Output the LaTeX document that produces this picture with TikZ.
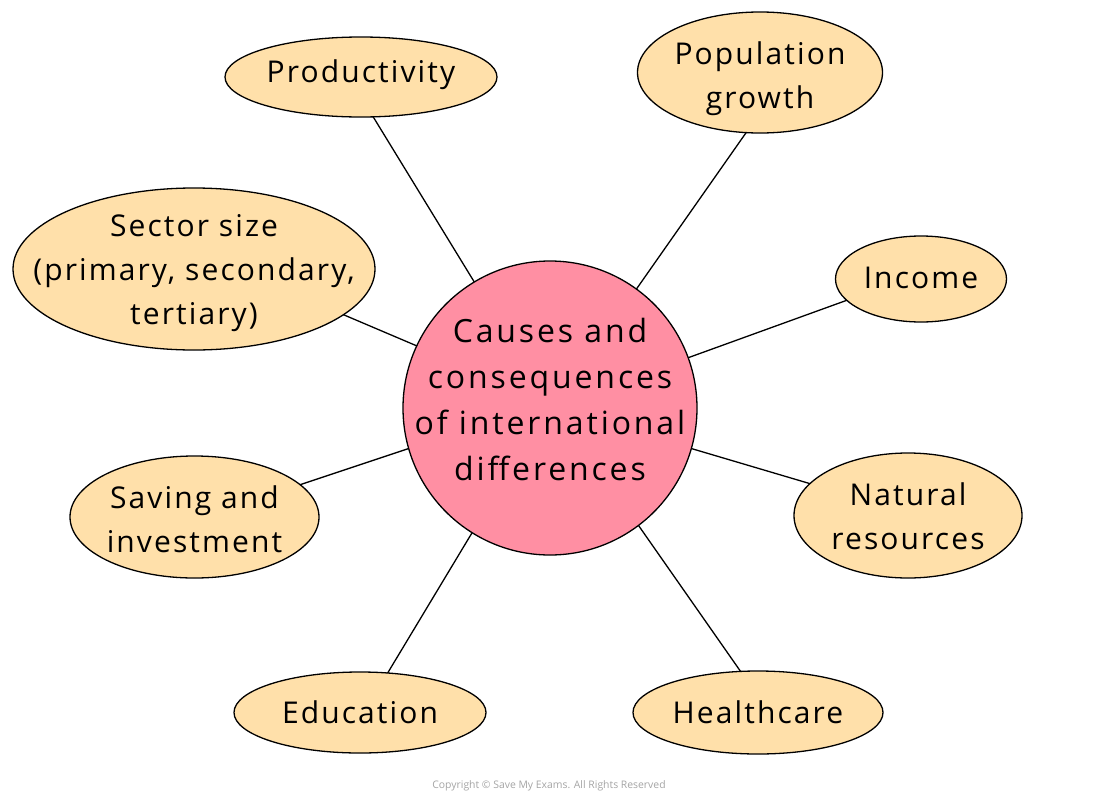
\documentclass[tikz,border=0pt]{standalone}
\usepackage{fontspec}
\setmainfont{Open Sans}
\newfontfamily\efont{Open Sans}[LetterSpace=7]
\newfontfamily\cfont{Open Sans}[LetterSpace=9]
\usetikzlibrary{shapes.geometric}
\definecolor{peach}{RGB}{255,224,170}
\definecolor{rosy}{RGB}{255,143,163}
\definecolor{copygray}{RGB}{165,165,165}
\tikzset{
  bubble/.style={ellipse, draw=black, line width=1.3pt, fill=peach, inner sep=0pt, outer sep=0pt},
  hub/.style={circle, draw=black, line width=1.3pt, fill=rosy, inner sep=0pt, outer sep=0pt, minimum size=294pt},
  btext/.style={align=center, font={\efont\fontsize{30}{44}\selectfont}, inner sep=0pt},
  ctext/.style={align=center, font={\cfont\fontsize{32}{46}\selectfont}, inner sep=0pt},
  link/.style={draw=black, line width=1.3pt}
}
\begin{document}
\begin{tikzpicture}[x=1pt,y=-1pt]
\useasboundingbox[fill=white] (0,0) rectangle (1100,798);
% hub
\node[hub] (c) at (550,408) {};
\node[ctext] (ct) at (550,399) {Causes and\\consequences\\of international\\differences};
% bubbles
\node[bubble, minimum width=272pt, minimum height=80pt] (prod) at (361,77) {};
\node[btext] (prodt) at (361,75) {Productivity};
\node[bubble, minimum width=245pt, minimum height=121pt] (pop) at (760,72.5) {};
\node[btext] (popt) at (760,79) {Population\\growth};
\node[bubble, minimum width=362pt, minimum height=162pt] (sec) at (194,269) {};
\node[btext] (sect) at (194,273) {Sector size\\(primary, secondary,\\tertiary)};
\node[bubble, minimum width=171pt, minimum height=86pt] (inc) at (921,279) {};
\node[btext] (inct) at (921,278) {Income};
\node[bubble, minimum width=249pt, minimum height=122pt] (sav) at (194.5,517) {};
\node[btext] (savt) at (194.5,519) {Saving and\\investment};
\node[bubble, minimum width=228pt, minimum height=125pt] (nat) at (908,515.5) {};
\node[btext] (natt) at (908,516) {Natural\\resources};
\node[bubble, minimum width=252pt, minimum height=81pt] (edu) at (360,712.5) {};
\node[btext] (edut) at (360,712) {Education};
\node[bubble, minimum width=250pt, minimum height=83pt] (hea) at (758,712.5) {};
\node[btext] (heat) at (758,712) {Healthcare};
% connectors
\draw[link] (c.121.2) -- (prod.-73.3);
\draw[link] (c.54.3) -- (pop.-103);
\draw[link] (c.20.4) -- (inc.196.1);
\draw[link] (c.155.8) -- (sec.-17.9);
\draw[link] (c.196.8) -- (sav.17.9);
\draw[link] (c.-16.7) -- (nat.162.7);
\draw[link] (c.238.6) -- (edu.55.3);
\draw[link] (c.-53.8) -- (hea.113.4);
% copyright
\node[font=\fontsize{10.4}{12}\selectfont, text=copygray] (copy) at (549,786) {Copyright © Save My Exams. All Rights Reserved};
\end{tikzpicture}
\end{document}
